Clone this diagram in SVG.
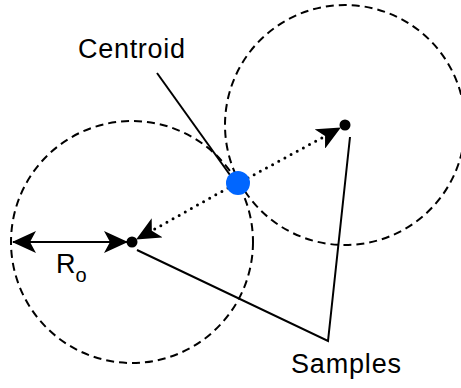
<svg xmlns="http://www.w3.org/2000/svg" width="461" height="388" viewBox="0 0 461 388">
<style>
.circ{fill:none;stroke:#000;stroke-width:2;stroke-dasharray:8 5}
.ln{fill:none;stroke:#000;stroke-width:2}
.dot{fill:none;stroke:#000;stroke-width:3;stroke-linecap:round;stroke-dasharray:0 7}
.lbl{font-family:"Liberation Sans",Arial,sans-serif;font-size:27px;fill:#000}
</style>
<defs>
<marker id="ah" viewBox="0 0 24 22" refX="23" refY="11" markerWidth="24" markerHeight="22" markerUnits="userSpaceOnUse" orient="auto-start-reverse">
<path d="M0,0 L24,11 L0,22 L6,11 Z" fill="#000"/>
</marker>
</defs>
<g id="circle-left"><circle class="circ" cx="132" cy="242" r="121"/></g>
<g id="circle-right"><circle class="circ" cx="345" cy="125" r="120"/></g>
<g id="connectors">
<line class="ln" x1="13" y1="242" x2="127" y2="242" marker-start="url(#ah)" marker-end="url(#ah)"/>
<line class="dot" x1="228" y1="188" x2="137" y2="239" marker-end="url(#ah)"/>
<line class="dot" x1="248" y1="178" x2="340" y2="128" marker-end="url(#ah)"/>
<line class="ln" x1="157" y1="73" x2="230" y2="175"/>
<polyline class="ln" points="137,250 328,341 350,137"/>
</g>
<g id="sample-left"><circle cx="132" cy="242" r="5.5" fill="#000"/></g>
<g id="sample-right"><circle cx="345" cy="125" r="5.5" fill="#000"/></g>
<g id="centroid"><circle cx="238" cy="183" r="12" fill="#0066ff"/></g>
<g id="labels">
<text class="lbl" x="78" y="58" textLength="107" lengthAdjust="spacing">Centroid</text>
<text class="lbl" x="291" y="373" textLength="110" lengthAdjust="spacing">Samples</text>
<text class="lbl" x="56" y="273" font-size="25">R<tspan font-size="20" dy="9">o</tspan></text>
</g>
</svg>
